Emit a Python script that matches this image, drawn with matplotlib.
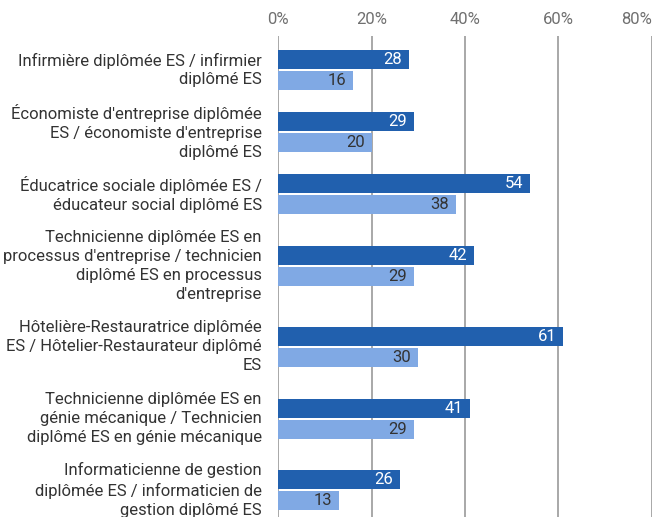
import matplotlib
matplotlib.use("Agg")
import matplotlib.pyplot as plt
from matplotlib.transforms import blended_transform_factory, ScaledTranslation

plt.rcParams['font.family'] = ['Roboto', 'DejaVu Sans']

categories = [
    "Infirmière diplômée ES / infirmier\ndiplômé ES",
    "Économiste d'entreprise diplômée\nES / économiste d'entreprise\ndiplômé ES",
    "Éducatrice sociale diplômée ES /\néducateur social diplômé ES",
    "Technicienne diplômée ES en\nprocessus d'entreprise / technicien\ndiplômé ES en processus\nd'entreprise",
    "Hôtelière-Restauratrice diplômée\nES / Hôtelier-Restaurateur diplômé\nES",
    "Technicienne diplômée ES en\ngénie mécanique / Technicien\ndiplômé ES en génie mécanique",
    "Informaticienne de gestion\ndiplômée ES / informaticien de\ngestion diplômé ES",
]
series_dark = [28, 29, 54, 42, 61, 41, 26]
series_light = [16, 20, 38, 29, 30, 29, 13]
xticks = [0, 20, 40, 60, 80]
xtick_labels = ["0%", "20%", "40%", "60%", "80%"]

DARK = "#2160AE"
LIGHT = "#80A9E4"
GRID = "#9a9a9a"
TEXT = "#333333"
TICK = "#707070"

W, H = 653, 517
DPI = 100
fig = plt.figure(figsize=(W / DPI, H / DPI), dpi=DPI)

left_px, right_px, top_px, bottom_px = 278.3, 651.7, 36, 517
ax = fig.add_axes([left_px / W, 1 - bottom_px / H, (right_px - left_px) / W, (bottom_px - top_px) / H])
ax.set_xlim(0, 80)
ax.set_ylim(bottom_px, top_px)  # y in pixel units from top

# layout: row centres depend on number of label lines
line_h = 19.0
pad = 14.6
nlines = [c.count("\n") + 1 for c in categories]
centers = [70.0]
for i in range(1, len(categories)):
    centers.append(centers[-1] + line_h * (nlines[i - 1] + nlines[i]) / 2 + pad)

bar_h = 19
off = 10.5
fs = 12.0

for x in xticks:
    ax.axvline(x, color=GRID, lw=1.2, zorder=0)

shift = ScaledTranslation(-7 / DPI, 0, fig.dpi_scale_trans)
for c, d, l in zip(centers, series_dark, series_light):
    ax.barh(c - off, d, height=bar_h, color=DARK, zorder=2)
    ax.barh(c + off, l, height=bar_h, color=LIGHT, zorder=2)
    ax.text(d, c - off, str(d), ha='right', va='center', color='white', fontsize=fs,
            transform=ax.transData + shift, zorder=3)
    ax.text(l, c + off, str(l), ha='right', va='center', color=TEXT, fontsize=fs,
            transform=ax.transData + shift, zorder=3)

trans = blended_transform_factory(ax.transAxes, ax.transData) + ScaledTranslation(-16.5 / DPI, 0, fig.dpi_scale_trans)
for c, lab in zip(centers, categories):
    ax.text(0, c, lab, ha='right', va='center', multialignment='right', color=TEXT,
            fontsize=fs, linespacing=1.33, transform=trans)

ax.set_yticks([])
ax.set_xticks([])
tick_trans = blended_transform_factory(ax.transData, ax.transAxes) + ScaledTranslation(0, 16 / DPI, fig.dpi_scale_trans)
for i, (x, lab) in enumerate(zip(xticks, xtick_labels)):
    ha = 'right' if i == len(xticks) - 1 else 'center'
    ax.text(x, 1, lab, ha=ha, va='center', color=TICK, fontsize=fs, transform=tick_trans)
for s in ax.spines.values():
    s.set_visible(False)

fig.savefig("out.png", dpi=DPI)
